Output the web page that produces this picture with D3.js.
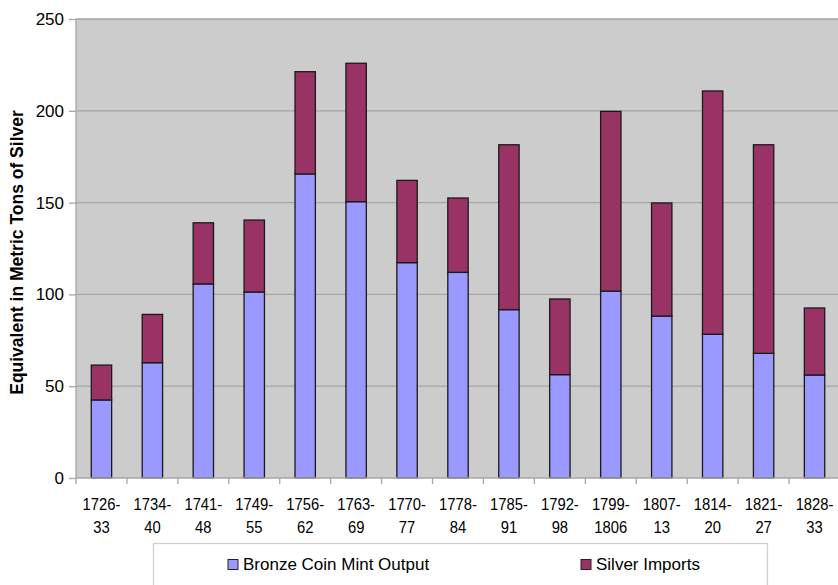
<!DOCTYPE html>
<html>
<head>
<meta charset="utf-8">
<script src="https://cdn.jsdelivr.net/npm/d3@7"></script>
<style>
  html, body { margin: 0; padding: 0; background: #fff; }
  svg { display: block; }
  text { font-family: "Liberation Sans", Arial, sans-serif; fill: #000; }
</style>
</head>
<body>
<svg id="chart" width="838" height="585"></svg>
<script>
const categories = ["1726-|33","1734-|40","1741-|48","1749-|55","1756-|62","1763-|69","1770-|77","1778-|84","1785-|91","1792-|98","1799-|1806","1807-|13","1814-|20","1821-|27","1828-|33"];
const bronze = [42.5, 62.8, 105.7, 101.3, 165.6, 150.5, 117.3, 112.0, 91.7, 56.3, 101.8, 88.2, 78.3, 67.9, 56.1];
const silver = [19.0, 26.3, 33.3, 39.2, 55.7, 75.4, 44.8, 40.5, 89.8, 41.2, 97.9, 61.6, 132.5, 113.6, 36.5];
const yTicks = [0, 50, 100, 150, 200, 250];
const seriesNames = ["Bronze Coin Mint Output", "Silver Imports"];
const seriesColors = ["#9999ff", "#993366"];

const svg = d3.select("#chart");
const plot = { left: 76, top: 19, right: 840, bottom: 478 };

const x = d3.scaleBand().domain(categories).range([plot.left, plot.right]).paddingInner(0.6).paddingOuter(0.3);
const xb = d3.scaleBand().domain(categories).range([plot.left, plot.right]);
const y = d3.scaleLinear().domain([0, 250]).range([plot.bottom, plot.top]);

// background
svg.append("rect").attr("x", plot.left).attr("y", plot.top)
  .attr("width", plot.right - plot.left).attr("height", plot.bottom - plot.top)
  .attr("fill", "#cccccc");

// gridlines
svg.append("g").selectAll("line").data(yTicks.filter(d => d > 0)).join("line")
  .attr("x1", plot.left).attr("x2", plot.right)
  .attr("y1", d => y(d)).attr("y2", d => y(d))
  .attr("stroke", "#a6a6a6").attr("stroke-width", 1.3);

// left border
svg.append("line").attr("x1", plot.left).attr("x2", plot.left)
  .attr("y1", plot.top).attr("y2", plot.bottom).attr("stroke", "#a6a6a6").attr("stroke-width", 1.3);

// y axis
const yAxis = svg.append("g").attr("transform", `translate(${plot.left},0)`)
  .call(d3.axisLeft(y).tickValues(yTicks).tickSize(7).tickPadding(5));
yAxis.select(".domain").remove();
yAxis.selectAll(".tick line").attr("stroke", "#a6a6a6").attr("stroke-width", 1.3);
yAxis.selectAll(".tick text").attr("font-size", "17px").attr("fill", "#111")
  .attr("font-family", "Liberation Sans, Arial, sans-serif");

// stacked data
const stackData = categories.map((c, i) => ({ cat: c, bronze: bronze[i], silver: silver[i] }));
const stack = d3.stack().keys(["bronze", "silver"])(stackData);

svg.append("g").selectAll("g").data(stack).join("g")
  .attr("fill", (d, i) => seriesColors[i])
  .selectAll("rect").data(d => d).join("rect")
  .attr("x", d => x(d.data.cat))
  .attr("width", x.bandwidth())
  .attr("y", d => y(d[1]))
  .attr("height", d => y(d[0]) - y(d[1]))
  .attr("stroke", "#1a1a1a").attr("stroke-width", 1.3);

// x axis
const xAxisG = svg.append("g");
xAxisG.append("line").attr("x1", plot.left).attr("x2", plot.right)
  .attr("y1", plot.bottom).attr("y2", plot.bottom).attr("stroke", "#a6a6a6").attr("stroke-width", 1.3);
xAxisG.selectAll("line.tk").data(categories).join("line").attr("class", "tk")
  .attr("x1", d => xb(d)).attr("x2", d => xb(d))
  .attr("y1", plot.bottom).attr("y2", plot.bottom + 6)
  .attr("stroke", "#a6a6a6").attr("stroke-width", 1.3);

const labels = xAxisG.selectAll("text").data(categories).join("text")
  .attr("text-anchor", "middle").attr("font-size", "17px").attr("fill", "#111")
  .attr("transform", d => `translate(${xb(d) + xb.bandwidth() / 2},0) scale(0.87,1)`);
labels.each(function(d) {
  const parts = d.split("|");
  const t = d3.select(this);
  t.append("tspan").attr("x", 0).attr("y", 510).text(parts[0]);
  t.append("tspan").attr("x", 0).attr("y", 533).text(parts[1]);
});

// y title
svg.append("text")
  .attr("transform", `translate(23,${(plot.top + plot.bottom) / 2 + 4}) rotate(-90)`)
  .attr("text-anchor", "middle").attr("font-size", "17.5px").attr("font-weight", "bold")
  .text("Equivalent in Metric Tons of Silver");

// legend
svg.append("rect").attr("x", 153.5).attr("y", 543.5).attr("width", 614).attr("height", 60)
  .attr("fill", "#fff").attr("stroke", "#cfcfcf").attr("stroke-width", 1.3);
const legX = [228, 581];
const leg = svg.append("g").selectAll("g").data(seriesNames).join("g")
  .attr("transform", (d, i) => `translate(${legX[i]},0)`);
leg.append("rect").attr("x", 0).attr("y", 559.5).attr("width", 10).attr("height", 10)
  .attr("fill", (d, i) => seriesColors[i]).attr("stroke", "#222").attr("stroke-width", 1);
leg.append("text").attr("x", 15).attr("y", 570).attr("font-size", "17px").attr("fill", "#111").text(d => d);
</script>
</body>
</html>
